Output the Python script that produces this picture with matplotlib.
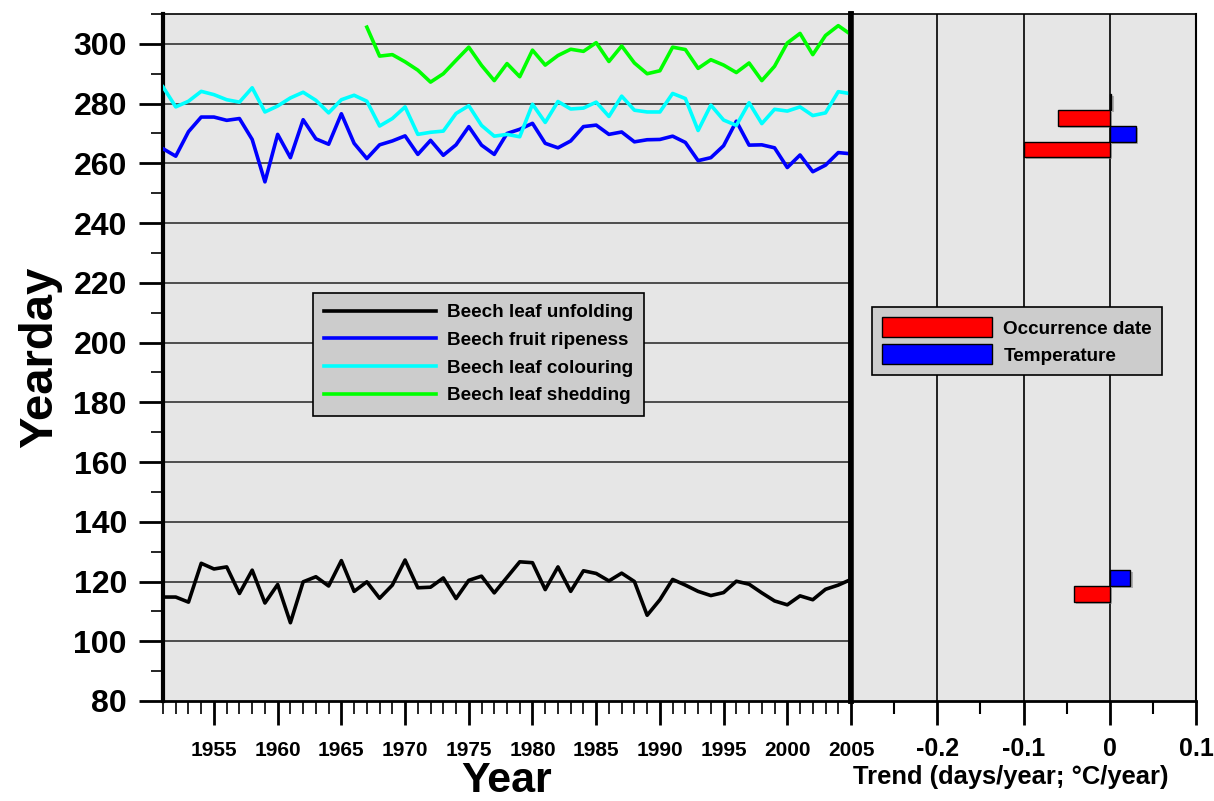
import matplotlib
matplotlib.use('Agg')
import matplotlib.pyplot as plt
import matplotlib.ticker as mticker
import matplotlib.patheffects as pe
from matplotlib.patches import Patch

plt.rcParams['font.family'] = ['Liberation Sans', 'DejaVu Sans']
plt.rcParams['font.weight'] = 'bold'

# ── data ─────────────────────────────────────────────────────────────────────
years = list(range(1951, 2006))

leaf_unfolding = [114.8, 114.8, 113.1, 126.1, 124.2, 124.9, 116.0, 123.8, 112.8, 119.0,
                  106.2, 119.9, 121.6, 118.5, 127.0, 116.7, 119.9, 114.4, 118.8, 127.2,
                  117.9, 118.1, 121.2, 114.3, 120.4, 121.8, 116.2, 121.4, 126.6, 126.3,
                  117.3, 124.9, 116.7, 123.6, 122.7, 120.2, 122.8, 120.0, 108.7, 113.9,
                  120.7, 118.8, 116.7, 115.3, 116.3, 120.1, 119.1, 116.2, 113.5, 112.2,
                  115.2, 113.9, 117.4, 118.8, 120.7]

fruit_ripeness = [264.9, 262.4, 270.6, 275.5, 275.5, 274.4, 275.0, 268.0, 253.8, 269.7,
                  261.9, 274.6, 268.2, 266.4, 276.6, 266.7, 261.6, 266.2, 267.5, 269.2,
                  263.0, 267.7, 262.7, 266.2, 272.3, 266.1, 263.0, 270.0, 271.4, 273.4,
                  266.7, 265.2, 267.5, 272.3, 272.8, 269.7, 270.5, 267.2, 267.9, 268.0,
                  269.1, 267.0, 260.9, 261.9, 265.9, 274.1, 266.1, 266.2, 265.2, 258.6,
                  262.8, 257.2, 259.4, 263.6, 263.2]

leaf_colouring = [285.6, 278.9, 280.8, 284.1, 283.0, 281.3, 280.5, 285.3, 277.2, 279.2,
                  281.9, 283.8, 281.1, 276.9, 281.3, 282.8, 280.8, 272.5, 275.0, 278.9,
                  269.7, 270.4, 270.8, 276.7, 279.3, 272.7, 269.1, 269.7, 268.9, 279.8,
                  273.7, 280.7, 278.2, 278.5, 280.5, 275.7, 282.5, 277.8, 277.2, 277.2,
                  283.4, 281.7, 271.0, 279.5, 274.5, 272.7, 280.3, 273.3, 278.1, 277.5,
                  278.9, 276.0, 276.9, 284.0, 283.3]

shed_years = list(range(1967, 2006))
leaf_shedding = [305.6, 295.9, 296.4, 294.0, 291.2, 287.2, 290.0, 294.5, 298.9, 292.8,
                 287.7, 293.4, 289.0, 297.9, 292.9, 296.1, 298.2, 297.5, 300.4, 294.1,
                 299.3, 293.6, 290.0, 291.0, 298.9, 298.1, 291.8, 294.7, 292.9, 290.4,
                 293.6, 287.7, 292.5, 300.3, 303.5, 296.4, 302.8, 306.1, 303.1]

# trends: one pair per phase, drawn at the phase's mean yearday
trend_centers = [118.6, 267.3, 277.8]
trend_occurrence = [-0.041, -0.099, -0.060]   # days/year
trend_temperature = [0.024, 0.030, 0.002]     # °C/year

SERIES = [('Beech leaf unfolding', years, leaf_unfolding, '#000000'),
          ('Beech fruit ripeness', years, fruit_ripeness, '#0000ff'),
          ('Beech leaf colouring', years, leaf_colouring, '#00ffff'),
          ('Beech leaf shedding', shed_years, leaf_shedding, '#00ff00')]

BG = '#e6e6e6'
W, H = 1214, 801
fig = plt.figure(figsize=(W / 100, H / 100), dpi=100)
ax = fig.add_axes([163 / W, 100 / H, 688 / W, 687 / H])
axr = fig.add_axes([851 / W, 100 / H, 345 / W, 687 / H])

# ── left panel: time series ─────────────────────────────────────────────────
ax.set_facecolor(BG)
for y in range(100, 301, 20):
    ax.axhline(y, color='#333333', lw=1.2, zorder=1)
for label, xs, ys, color in SERIES:
    ax.plot(xs, ys, color=color, lw=2.6, label=label, zorder=3)

ax.set_xlim(1951, 2005)
ax.set_ylim(80, 310)
ax.xaxis.set_major_locator(mticker.MultipleLocator(5))
ax.xaxis.set_minor_locator(mticker.MultipleLocator(1))
ax.yaxis.set_major_locator(mticker.FixedLocator(range(80, 301, 20)))
ax.yaxis.set_minor_locator(mticker.FixedLocator(range(90, 311, 20)))
ax.tick_params(axis='both', which='major', direction='out', length=17, width=2)
ax.tick_params(axis='both', which='minor', direction='out', length=9, width=1.2)
ax.tick_params(axis='x', which='major', labelsize=15, pad=12)
ax.tick_params(axis='y', which='major', labelsize=23, pad=9)
for lab in ax.get_xticklabels() + ax.get_yticklabels():
    lab.set_fontweight('bold')
ax.set_xlabel('Year', fontsize=31, fontweight='bold')
ax.xaxis.set_label_coords(0.5, -0.087)
ax.set_ylabel('Yearday', fontsize=34, fontweight='bold', labelpad=8)
ax.spines['left'].set_linewidth(3)
ax.spines['bottom'].set_linewidth(2)
ax.spines['top'].set_linewidth(1.2)
ax.spines['right'].set_linewidth(4)

leg = ax.legend(loc='upper left', bbox_to_anchor=(0.218, 0.594), borderaxespad=0,
                handlelength=5.9, handletextpad=0.58, labelspacing=0.55,
                borderpad=0.6, fancybox=False, framealpha=1, facecolor='#cccccc',
                edgecolor='black', prop=dict(weight='bold', size=13.6))
leg.get_frame().set_linewidth(1.2)

# ── right panel: trends ─────────────────────────────────────────────────────
axr.set_facecolor(BG)
bar_h = 5.3
shadow = [pe.SimplePatchShadow(offset=(1.5, -1.5), shadow_rgbFace='#888888', alpha=0.6),
          pe.Normal()]
axr.barh([c - bar_h / 2 for c in trend_centers], trend_occurrence, height=bar_h,
         color='#ff0000', edgecolor='black', lw=1, zorder=3, path_effects=shadow)
axr.barh([c + bar_h / 2 for c in trend_centers], trend_temperature, height=bar_h,
         color='#0000ff', edgecolor='black', lw=1, zorder=3, path_effects=shadow)
for xv in [-0.2, -0.1, 0.0]:
    axr.axvline(xv, color='black', lw=1.2, zorder=1)

axr.set_xlim(-0.3, 0.1)
axr.set_ylim(80, 310)
axr.set_yticks([])
axr.set_xticks([-0.2, -0.1, 0.0, 0.1])
axr.set_xticklabels(['-0.2', '-0.1', '0', '0.1'])
axr.xaxis.set_minor_locator(mticker.FixedLocator([-0.25, -0.15, -0.05, 0.05]))
axr.tick_params(axis='x', which='major', direction='out', length=17, width=2,
                labelsize=18, pad=9)
axr.tick_params(axis='x', which='minor', direction='out', length=9, width=1.5)
for lab in axr.get_xticklabels():
    lab.set_fontweight('bold')
axr.set_xlabel('Trend (days/year; °C/year)', fontsize=18.4, fontweight='bold')
axr.xaxis.set_label_coords(0.464, -0.093)
axr.spines['left'].set_linewidth(4)
axr.spines['bottom'].set_linewidth(2)
axr.spines['top'].set_linewidth(1.2)
axr.spines['right'].set_linewidth(1.5)

handles = [Patch(facecolor='#ff0000', edgecolor='black', label='Occurrence date'),
           Patch(facecolor='#0000ff', edgecolor='black', label='Temperature')]
legr = axr.legend(handles=handles, loc='upper left', bbox_to_anchor=(0.061, 0.5735),
                  borderaxespad=0, handlelength=5.8, handleheight=1.25, handletextpad=0.6,
                  labelspacing=0.35, borderpad=0.55, fancybox=False, framealpha=1,
                  facecolor='#cccccc', edgecolor='black',
                  prop=dict(weight='bold', size=13.6))
legr.get_frame().set_linewidth(1.2)

fig.savefig('out.png', dpi=100)
